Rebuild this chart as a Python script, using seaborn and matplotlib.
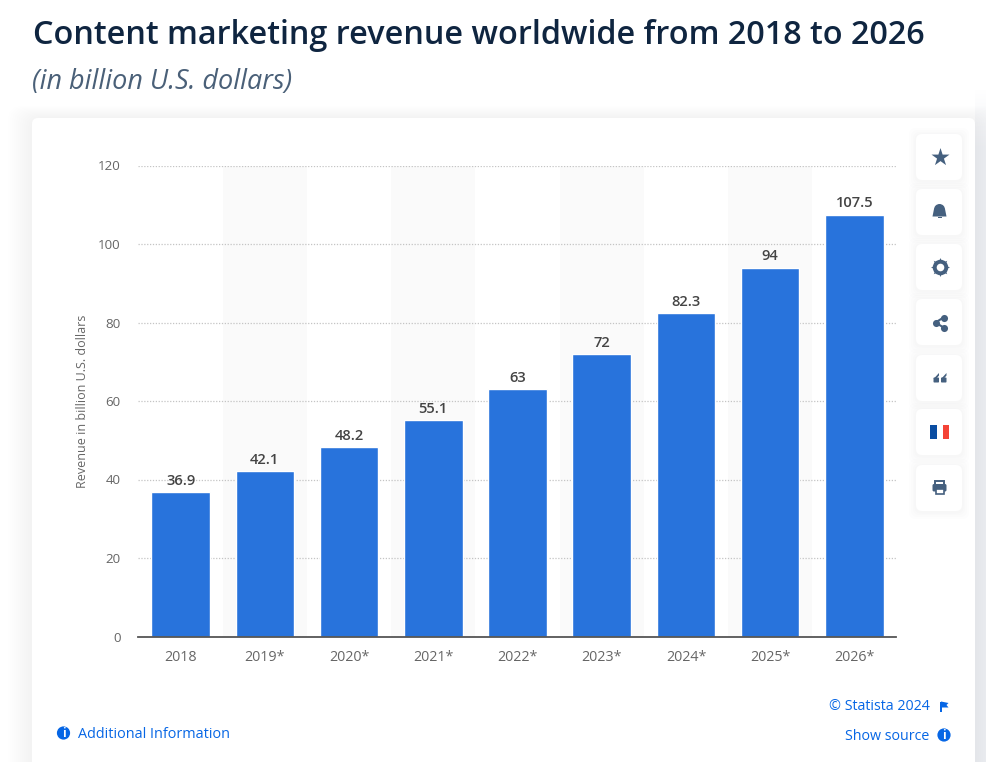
import matplotlib
matplotlib.use("Agg")
import matplotlib.pyplot as plt
from matplotlib.patches import FancyBboxPatch, Rectangle, Circle, Polygon, Wedge
import seaborn as sns
import pandas as pd
import numpy as np

years = ["2018", "2019*", "2020*", "2021*", "2022*", "2023*", "2024*", "2025*", "2026*"]
revenue = [36.9, 42.1, 48.2, 55.1, 63, 72, 82.3, 94, 107.5]
value_labels = ["36.9", "42.1", "48.2", "55.1", "63", "72", "82.3", "94", "107.5"]
y_ticks = [0, 20, 40, 60, 80, 100, 120]
title = "Content marketing revenue worldwide from 2018 to 2026"
subtitle = "(in billion U.S. dollars)"
y_label = "Revenue in billion U.S. dollars"

W, H = 987, 762
sns.set_theme(style="white")
plt.rcParams["font.family"] = ["Open Sans", "DejaVu Sans"]
fig = plt.figure(figsize=(W / 100, H / 100), dpi=100, facecolor="white")

# page layer in pixel coordinates
bg = fig.add_axes([0, 0, 1, 1], zorder=0)
bg.set_xlim(0, W); bg.set_ylim(H, 0); bg.axis("off")
shade = np.clip((np.arange(0, 100)) / 60, 0, 1)[:, None, None] * np.array([[[0xf0 - 255, 0xf2 - 255, 0xf6 - 255]]]) + 255
bg.imshow(shade.astype(np.uint8), extent=(975, 987, 190, 90), aspect="auto", interpolation="bilinear", zorder=0)
bg.add_patch(Rectangle((975, 189), 12, H - 189, fc="#f0f2f6", ec="none", zorder=0))
bg.set_xlim(0, W); bg.set_ylim(H, 0)
for g in range(24, 0, -2):
    bg.add_patch(FancyBboxPatch((32 - g, 118 - g * .5), 943 + 2 * g, H, boxstyle="round,pad=0,rounding_size=14",
                                fc="#6a7a9a", ec="none", alpha=.0028, zorder=1))
bg.add_patch(FancyBboxPatch((32, 118), 943, H, boxstyle="round,pad=0,rounding_size=6", fc="white", ec="none", zorder=2))
bg.text(33, 35, title, fontsize=23.3, fontweight=600, color="#0f2540", va="center", ha="left")
bg.text(32, 82.3, subtitle, fontsize=19.45, style="italic", color="#4a6078", va="center", ha="left")

# chart
ax = fig.add_axes([138.5 / W, 1 - 636.5 / H, 758 / W, 471 / H], zorder=1)
ax.patch.set_alpha(0)
df = pd.DataFrame({"year": years, "revenue": revenue})
for i in range(1, len(years), 2):
    ax.axvspan(i - .5, i + .5, color="#fafafa", lw=0, zorder=0)
sns.barplot(data=df, x="year", y="revenue", color="#2873dc", saturation=1, width=0.695, ax=ax, zorder=3)
ax.set_xlim(-.5, len(years) - .5)
ax.set_ylim(0, 120)
ax.set_yticks(y_ticks)
ax.grid(axis="y", color="#c4c4c4", lw=0.9, ls=(0, (1, 1.3)), zorder=1)
ax.set_axisbelow(True)
for s in ["top", "left", "right"]:
    ax.spines[s].set_visible(False)
ax.spines["bottom"].set_color("#555555")
ax.spines["bottom"].set_linewidth(1.3)
ax.spines["bottom"].set_zorder(5)
ax.tick_params(axis="x", length=0, pad=10, labelsize=10.3, labelcolor="#666666")
ax.tick_params(axis="y", length=0, pad=13, labelsize=9.6, labelcolor="#666666")
ax.set_xlabel("")
ax.set_ylabel(y_label, fontsize=9.0, color="#666666")
ax.yaxis.set_label_coords((90 - 139) / 758, .5)
for c in ax.containers:
    ax.bar_label(c, labels=value_labels, padding=3, fontsize=10.6, fontweight=600, color="#444444")

# toolbar
fg = fig.add_axes([0, 0, 1, 1], zorder=2)
fg.set_xlim(0, W); fg.set_ylim(H, 0); fg.axis("off"); fg.patch.set_alpha(0)
ic = "#45607f"
centers = [157, 212, 267, 322, 378, 432, 488]
for yc in centers:
    for g in (7, 5, 3, 1.5):
        fg.add_patch(FancyBboxPatch((916 - g, yc - 23 - g + 1), 46 + 2 * g, 46 + 2 * g,
                                    boxstyle="round,pad=0,rounding_size=7", fc="#5a6a8a", ec="none", alpha=.012))
    fg.add_patch(FancyBboxPatch((916, yc - 23), 46, 46, boxstyle="round,pad=0,rounding_size=6", fc="white", ec="none"))
# star
fg.scatter([939.5], [156.5], marker="*", s=185, c=ic, lw=0)
# bell
fg.add_patch(Wedge((939.5, 209.5), 5.5, 180, 360, fc=ic, lw=0))
fg.add_patch(Polygon([(934, 209), (945, 209), (946.5, 216.5), (932.5, 216.5)], fc=ic, lw=0))
fg.add_patch(Rectangle((937.5, 217), 4, 1.4, fc=ic, lw=0))
# gear
fg.scatter([939.5], [267], marker=(8, 1, 0), s=190, c=ic, lw=0)
fg.scatter([939.5], [267], marker="o", s=125, c=ic, lw=0)
fg.scatter([939.5], [267], marker="o", s=30, c="white", lw=0)
# share
fg.plot([943.5, 935.5, 943.5], [317.5, 322.5, 327.5], color=ic, lw=1.5)
fg.scatter([943.5, 935.5, 943.5], [317.5, 322.5, 327.5], s=26, c=ic, lw=0)
# quotes
for x0 in (933.5, 941):
    fg.add_patch(FancyBboxPatch((x0, 377.5), 5.5, 5, boxstyle="round,pad=0,rounding_size=.8", fc=ic, lw=0))
    fg.add_patch(Polygon([(x0, 379), (x0 + 5.5, 373), (x0 + 5.5, 375.5), (x0 + 2.5, 379)], fc=ic, lw=0))
# flag
fg.add_patch(Rectangle((930, 425), 6.5, 14, fc="#0a4da2", lw=0))
fg.add_patch(Rectangle((936.5, 425), 6, 14, fc="white", lw=0))
fg.add_patch(Rectangle((942.5, 425), 6.5, 14, fc="#f44336", lw=0))
# printer
fg.add_patch(Rectangle((935, 481), 9, 4, fc="none", ec=ic, lw=1.4))
fg.add_patch(FancyBboxPatch((932.5, 484), 14, 7.5, boxstyle="round,pad=0,rounding_size=1.5", fc=ic, lw=0))
fg.add_patch(Rectangle((935.5, 488.5), 8, 5, fc="white", ec=ic, lw=1.2))

# footer
blue = "#0666e5"
def info(x, y):
    fg.add_patch(Circle((x, y), 6.6, fc=blue, lw=0))
    fg.text(x, y + .3, "i", color="white", fontsize=8.5, fontweight="bold", ha="center", va="center")
info(63.5, 733)
fg.text(78, 734.5, "Additional Information", fontsize=10.35, color=blue, ha="left", va="center")
fg.text(929.5, 707, "© Statista 2024", fontsize=10.3, color=blue, ha="right", va="center")
fg.add_patch(Rectangle((940, 701.5), 1.6, 10.5, fc=blue, lw=0))
fg.add_patch(Polygon([(941, 701.5), (948.5, 703), (946.5, 705), (948.5, 707.5), (941, 707.5)], fc=blue, lw=0))
fg.text(929.5, 736, "Show source", fontsize=10.3, color=blue, ha="right", va="center")
info(944, 735)

fig.savefig("out.png", dpi=100)
